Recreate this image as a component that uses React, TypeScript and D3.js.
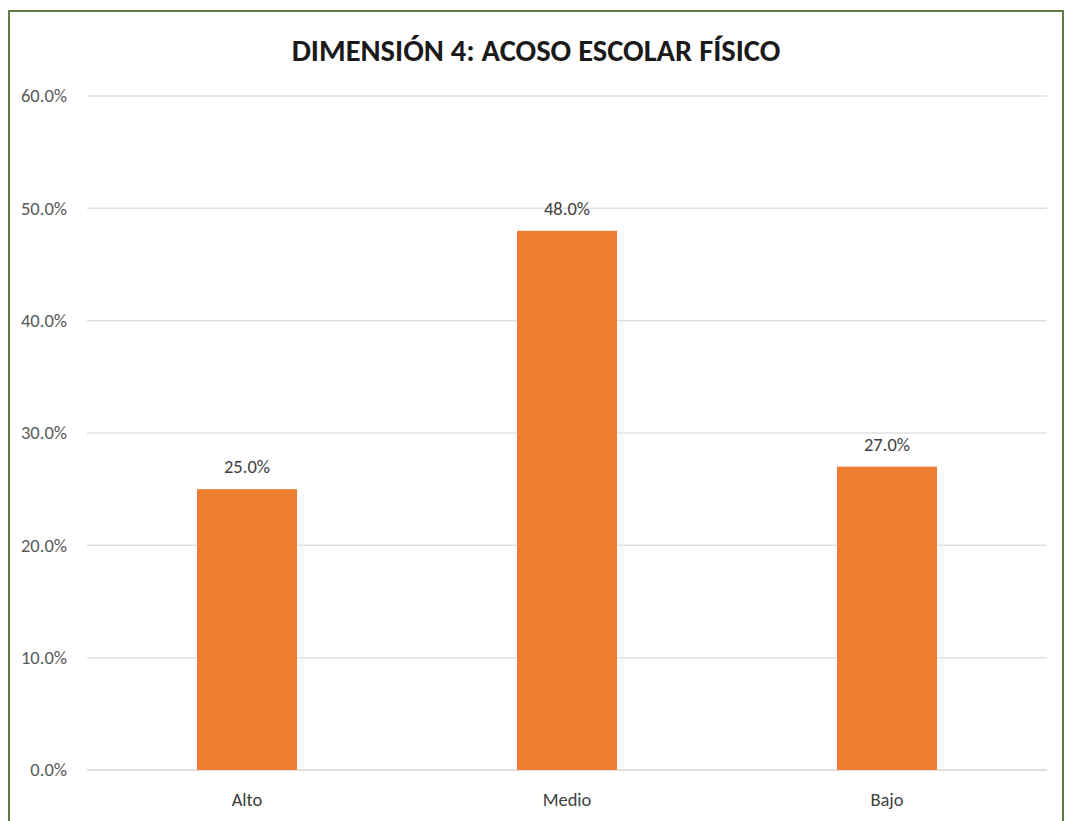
import React, { useEffect, useRef } from 'react';
import * as d3 from 'd3';

const categories = ['Alto', 'Medio', 'Bajo'];
const values = [25.0, 48.0, 27.0];
const yTicks = [0, 10, 20, 30, 40, 50, 60];
const title = 'DIMENSIÓN 4: ACOSO ESCOLAR FÍSICO';

const FONT = "Carlito, Calibri, 'Liberation Sans Narrow', 'DejaVu Sans Condensed', 'Open Sans', sans-serif";

export default function App() {
  const svgRef = useRef<SVGSVGElement | null>(null);

  useEffect(() => {
    document.body.style.margin = '0';
    if (!svgRef.current) return;
    const svg = d3.select(svgRef.current);
    svg.selectAll('*').remove();

    const width = 1066;
    const height = 821;
    const margin = { top: 96, right: 19, bottom: 51, left: 87 };
    const chartW = width - margin.left - margin.right;
    const chartH = height - margin.top - margin.bottom;

    svg.append('rect')
      .attr('width', width).attr('height', height).attr('fill', '#ffffff');

    // chart frame
    svg.append('rect')
      .attr('x', 9).attr('y', 11)
      .attr('width', 1054).attr('height', 830)
      .attr('fill', 'none')
      .attr('stroke', '#5f7d42')
      .attr('stroke-width', 2);

    svg.append('text')
      .attr('x', 536).attr('y', 61)
      .attr('text-anchor', 'middle')
      .attr('font-family', FONT)
      .attr('font-weight', 'bold')
      .attr('font-size', 30.5)
      .attr('fill', '#1a1a1a')
      .text(title);

    const x = d3.scaleBand<string>()
      .domain(categories)
      .range([0, chartW])
      .paddingInner(0.6875)
      .paddingOuter(0.34375);

    const y = d3.scaleLinear().domain([0, 60]).range([chartH, 0]);

    const g = svg.append('g').attr('transform', `translate(${margin.left},${margin.top})`);

    // gridlines
    g.append('g')
      .selectAll('line')
      .data(yTicks)
      .enter()
      .append('line')
      .attr('x1', 0).attr('x2', chartW)
      .attr('y1', d => y(d)).attr('y2', d => y(d))
      .attr('stroke', d => (d === 0 ? '#d4d4d4' : '#e0e0e0'))
      .attr('stroke-width', 1.5);

    // y tick labels
    g.append('g')
      .selectAll('text')
      .data(yTicks)
      .enter()
      .append('text')
      .attr('x', -20)
      .attr('y', d => y(d))
      .attr('dy', '0.35em')
      .attr('text-anchor', 'end')
      .attr('font-family', FONT)
      .attr('font-size', 18.5)
      .attr('fill', '#595959')
      .text(d => `${d.toFixed(1)}%`);

    // bars
    g.append('g')
      .selectAll('rect')
      .data(values)
      .enter()
      .append('rect')
      .attr('x', (_, i) => x(categories[i]) ?? 0)
      .attr('y', d => y(d))
      .attr('width', x.bandwidth())
      .attr('height', d => chartH - y(d))
      .attr('fill', '#ed7d31');

    // value labels
    g.append('g')
      .selectAll('text')
      .data(values)
      .enter()
      .append('text')
      .attr('x', (_, i) => (x(categories[i]) ?? 0) + x.bandwidth() / 2)
      .attr('y', d => y(d) - 16)
      .attr('text-anchor', 'middle')
      .attr('font-family', FONT)
      .attr('font-size', 18.5)
      .attr('fill', '#404040')
      .text(d => `${d.toFixed(1)}%`);

    // category labels
    g.append('g')
      .selectAll('text')
      .data(categories)
      .enter()
      .append('text')
      .attr('x', d => (x(d) ?? 0) + x.bandwidth() / 2)
      .attr('y', chartH + 36)
      .attr('text-anchor', 'middle')
      .attr('font-family', FONT)
      .attr('font-size', 18.5)
      .attr('fill', '#404040')
      .text(d => d);
  }, []);

  return <svg ref={svgRef} width={1066} height={821} style={{ display: 'block' }} />;
}
